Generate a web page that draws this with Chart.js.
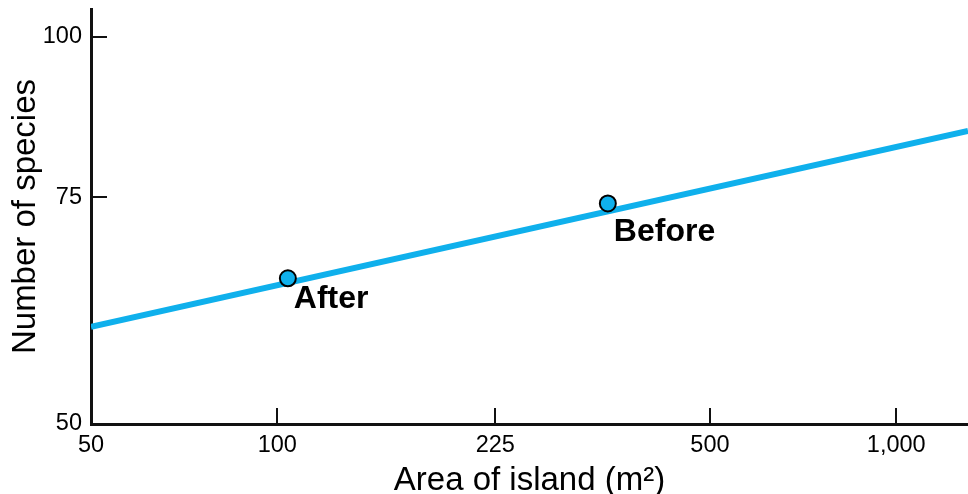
<!DOCTYPE html>
<html>
<head>
<meta charset="utf-8">
<script src="https://cdn.jsdelivr.net/npm/chart.js@4.4.0/dist/chart.umd.min.js"></script>
<style>
   html, body { margin: 0; padding: 0; background: #fff; overflow: hidden; }
   #wrap { width: 968px; height: 494px; }
</style>
</head>
<body>
<div id="wrap"><canvas id="chart"></canvas></div>
<script>
// Species-area data
const pointNames = ['After', 'Before'];
const pointArea = [104, 342];
const pointSpecies = [64.9, 74.2];
const lineArea = [50, 1306];
const lineSpecies = [59.5, 84.5];
const xTickValues = [50, 100, 225, 500, 1000];
const yTickValues = [50, 75, 100];

const blue = '#0fb0ec';
const fontFamily = "'Liberation Sans', Arial, sans-serif";

// Inward tick marks + point labels
const decorPlugin = {
   id: 'decor',
   afterDraw: function (chart) {
      const ctx = chart.ctx;
      const xs = chart.scales.x;
      const ys = chart.scales.y;
      const area = chart.chartArea;
      ctx.save();
      ctx.strokeStyle = '#111';
      ctx.lineWidth = 2;
      ctx.beginPath();
      xTickValues.slice(1).forEach(v => {
         const px = Math.round(xs.getPixelForValue(v));
         ctx.moveTo(px, area.bottom);
         ctx.lineTo(px, area.bottom - 16);
      });
      yTickValues.slice(1).forEach(v => {
         const py = Math.round(ys.getPixelForValue(v));
         ctx.moveTo(area.left, py);
         ctx.lineTo(area.left + 16, py);
      });
      ctx.stroke();

      // labels next to the points
      const offsets = [[6, 9], [6, 17]];
      ctx.fillStyle = '#000';
      ctx.font = 'bold 32px ' + fontFamily;
      ctx.textBaseline = 'top';
      pointNames.forEach((name, i) => {
         const px = xs.getPixelForValue(pointArea[i]);
         const py = ys.getPixelForValue(pointSpecies[i]);
         ctx.fillText(name, px + offsets[i][0], py + offsets[i][1] - 4);
      });
      ctx.restore();
   }
};

new Chart(document.getElementById('chart'), {
   type: 'scatter',
   data: {
      datasets: [{
         type: 'line',
         data: lineArea.map((a, i) => ({ x: a, y: lineSpecies[i] })),
         borderColor: blue,
         borderWidth: 6,
         pointRadius: 0,
         order: 2
      }, {
         data: pointArea.map((a, i) => ({ x: a, y: pointSpecies[i] })),
         backgroundColor: blue,
         borderColor: '#000',
         borderWidth: 2,
         pointRadius: 8,
         order: 1
      }]
   },
   options: {
      responsive: true,
      maintainAspectRatio: false,
      animation: false,
      layout: { autoPadding: false, padding: { top: 9, right: 0, left: 0, bottom: 0 } },
      plugins: { legend: { display: false }, tooltip: { enabled: false } },
      scales: {
         x: {
            type: 'logarithmic',
            min: 50,
            max: 1306,
            grid: { display: false, drawTicks: false },
            border: { display: true, color: '#111', width: 3 },
            afterBuildTicks: function (scale) { scale.ticks = xTickValues.map(v => ({ value: v })); },
            afterFit: function (scale) {
               scale.height = 70;
               scale.paddingLeft = 0;
               scale.paddingRight = 0;
            },
            ticks: {
               color: '#000',
               padding: 7,
               maxRotation: 0,
               font: { family: fontFamily, size: 23.5 },
               callback: function (value) { return value.toLocaleString('en-US'); }
            },
            title: {
               display: true,
               text: 'Area of island (m²)',
               color: '#000',
               padding: { top: 0, bottom: 0 },
               font: { family: fontFamily, size: 33, lineHeight: 0.8 }
            }
         },
         y: {
            type: 'logarithmic',
            min: 50,
            max: 105.1,
            grid: { display: false, drawTicks: false },
            border: { display: true, color: '#111', width: 3 },
            afterBuildTicks: function (scale) { scale.ticks = yTickValues.map(v => ({ value: v })); },
            afterFit: function (scale) {
               scale.width = 91;
               scale.paddingTop = 0;
               scale.paddingBottom = 0;
            },
            ticks: {
               color: '#000',
               padding: 9,
               font: { family: fontFamily, size: 23.5 },
               callback: function (value) { return String(value); }
            },
            title: {
               display: true,
               text: 'Number of species',
               color: '#000',
               padding: { top: 0, bottom: 0 },
               font: { family: fontFamily, size: 33, lineHeight: 1.56 }
            }
         }
      }
   },
   plugins: [decorPlugin]
});
</script>
</body>
</html>
